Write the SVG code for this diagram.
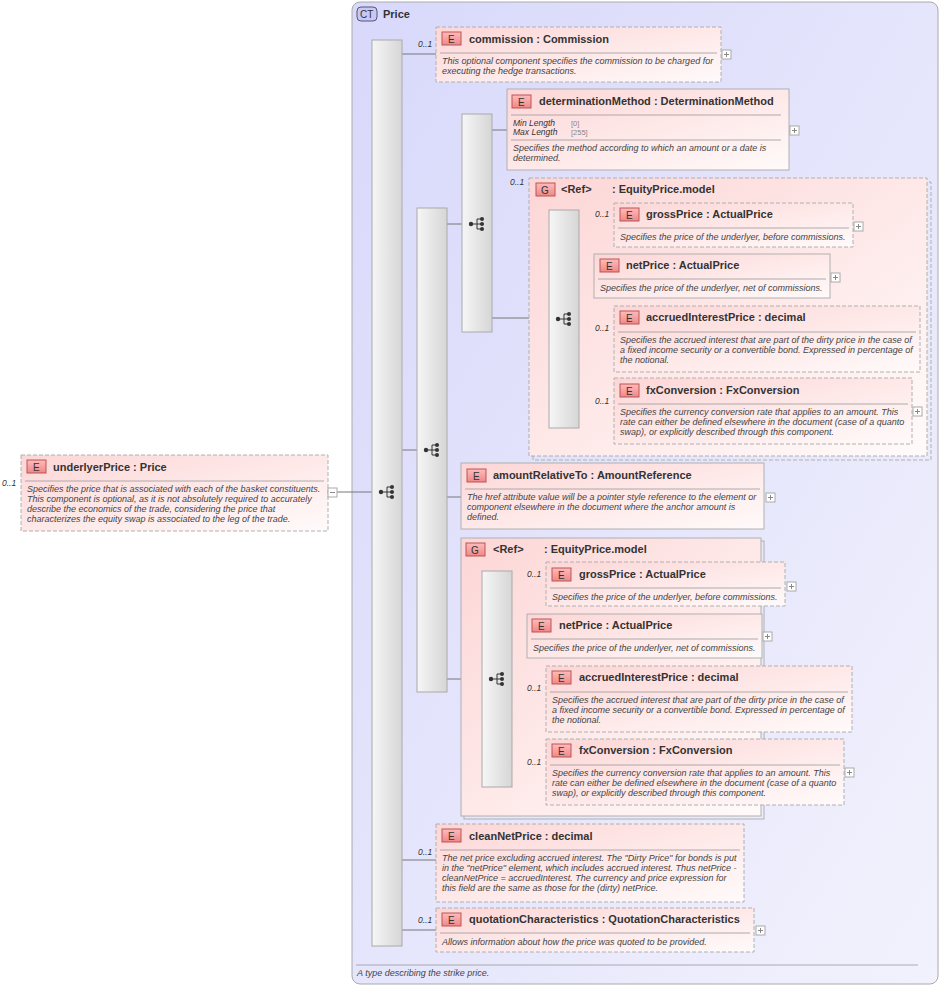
<svg xmlns="http://www.w3.org/2000/svg" width="942" height="987" viewBox="0 0 942 987" xml:space="preserve">
<defs>
<linearGradient id="ct" x1="0" y1="0" x2="1" y2="1"><stop offset="0" stop-color="#d8d8fb"/><stop offset="1" stop-color="#f2f2fd"/></linearGradient>
<linearGradient id="el" x1="0" y1="0" x2="1" y2="1"><stop offset="0" stop-color="#fdd6d6"/><stop offset="1" stop-color="#fffafa"/></linearGradient>
<linearGradient id="bar" x1="0" y1="0" x2="1" y2="0"><stop offset="0" stop-color="#f6f6f6"/><stop offset="1" stop-color="#d6d6d6"/></linearGradient>
<linearGradient id="badge" x1="0" y1="0" x2="0" y2="1"><stop offset="0" stop-color="#fbb"/><stop offset="1" stop-color="#e88"/></linearGradient>
<g id="seq"><circle cx="-6" cy="0" r="2.2" fill="#333"/><line x1="-6" y1="0" x2="0" y2="0" stroke="#333"/><line x1="0" y1="-5" x2="0" y2="5" stroke="#333"/><line x1="0" y1="-5" x2="4" y2="-5" stroke="#333"/><line x1="0" y1="0" x2="4" y2="0" stroke="#333"/><line x1="0" y1="5" x2="4" y2="5" stroke="#333"/><circle cx="5" cy="-5" r="2" fill="#333"/><circle cx="5" cy="0" r="2" fill="#333"/><circle cx="5" cy="5" r="2" fill="#333"/></g>
<g id="plus"><rect x="0" y="0" width="9" height="9" fill="#fff" stroke="#aaa"/><path d="M2 4.5H7M4.5 2V7" stroke="#888"/></g>
</defs>
<style>
text{font-family:"Liberation Sans",Arial,sans-serif;fill:#333}
.h{font-size:11px;font-weight:bold}
.d{font-size:9px;font-style:italic;fill:#444}
.m{font-size:8.5px;font-style:italic;fill:#333}
.v{font-size:7.5px;fill:#888}
.bd{font-size:10px;fill:#333}
.ed{fill:url(#el);stroke:#b0b0b0;stroke-dasharray:4 2}
.es{fill:url(#el);stroke:#b0b0b0}
.sep{stroke:#999;stroke-width:0.8}
.bar{fill:url(#bar);stroke:#aaa}
.badge{fill:url(#badge);stroke:#b55}
.c{stroke:#777;fill:none}
</style>
<rect x="352" y="2" width="586" height="982" rx="8" fill="url(#ct)" stroke="#aaa"/>
<g id="ct-head"><rect x="357" y="7" width="20" height="14" rx="4" fill="#c8c8f5" stroke="#557"/><text x="360" y="18" class="bd">CT</text><text x="383" y="18" class="h">Price</text></g>
<line x1="356" y1="965" x2="918" y2="965" class="sep"/>
<text x="357" y="976" class="d">A type describing the strike price.</text>

<g id="connectors">
<path class="c" d="M337 492H372M402 54H436M402 450H417M402 860H436M402 930H436M447 224H462M447 497H461M447 679H461M492 130H507M492 318H549M579 226H614M579 277H594M579 340H614M579 411H614M512 586H546M512 636H527M512 699H546M512 772H546"/>
</g>

<g id="bars">
<rect class="bar" x="372" y="40" width="30" height="906"/><use href="#seq" x="387" y="492"/>
<rect class="bar" x="417" y="208" width="30" height="484"/><use href="#seq" x="432" y="450"/>
<rect class="bar" x="462" y="114" width="30" height="218"/><use href="#seq" x="477" y="224"/>
</g>

<g id="underlyerPrice">
<rect class="ed" x="21" y="455" width="307" height="76"/>
<rect class="badge" x="27" y="460" width="19" height="13"/><text x="33" y="471" class="bd">E</text>
<text x="53" y="471" class="h">underlyerPrice  : Price</text>
<line x1="25" y1="481" x2="324" y2="481" class="sep"/>
<text class="d"><tspan x="27" y="492">Specifies the price that is associated with each of the basket constituents.</tspan><tspan x="27" y="502">This component is optional, as it is not absolutely required to accurately</tspan><tspan x="27" y="512">describe the economics of the trade, considering the price that</tspan><tspan x="27" y="522">characterizes the equity swap is associated to the leg of the trade.</tspan></text>
<text x="2" y="486" class="m">0..1</text>
<rect x="328" y="488" width="9" height="9" fill="#fff" stroke="#aaa"/><path d="M330 492.5H335" stroke="#888"/>
</g>

<g id="commission">
<rect class="ed" x="436" y="27" width="285" height="55"/>
<rect class="badge" x="442" y="32" width="19" height="13"/><text x="448" y="43" class="bd">E</text>
<text x="469" y="43" class="h">commission  : Commission</text>
<line x1="440" y1="53" x2="717" y2="53" class="sep"/>
<text class="d"><tspan x="442" y="64">This optional component specifies the commission to be charged for</tspan><tspan x="442" y="74">executing the hedge transactions.</tspan></text>
<text x="418" y="47" class="m">0..1</text><use href="#plus" x="722" y="50"/>
</g>

<g id="determinationMethod">
<rect class="es" x="507" y="89" width="282" height="81"/>
<rect class="badge" x="512" y="95" width="19" height="13"/><text x="518" y="106" class="bd">E</text>
<text x="539" y="105" class="h">determinationMethod  : DeterminationMethod</text>
<line x1="511" y1="115" x2="781" y2="115" class="sep"/>
<text x="513" y="126" class="m">Min Length</text><text x="571" y="126" class="v">[0]</text>
<text x="513" y="135" class="m">Max Length</text><text x="571" y="135" class="v">[255]</text>
<line x1="511" y1="140" x2="781" y2="140" class="sep"/>
<text class="d"><tspan x="513" y="151">Specifies the method according to which an amount or a date is</tspan><tspan x="513" y="161">determined.</tspan></text>
<use href="#plus" x="790" y="126"/>
</g>

<g id="group1">
<rect x="533" y="182" width="398" height="278" fill="none" stroke="#b0b0b0" stroke-dasharray="4 2"/>
<rect class="ed" x="529" y="178" width="398" height="278"/>
<rect class="badge" x="536" y="183" width="19" height="13"/><text x="541" y="194" class="bd">G</text>
<text x="561" y="193" class="h">&lt;Ref&gt;</text><text x="612" y="193" class="h">: EquityPrice.model</text>
<text x="510" y="185" class="m">0..1</text>
<rect class="bar" x="549" y="210" width="30" height="218"/><use href="#seq" x="564" y="319"/>
</g>

<g id="grossPrice1">
<rect class="ed" x="614" y="203" width="239" height="44"/>
<rect class="badge" x="620" y="208" width="19" height="13"/><text x="626" y="219" class="bd">E</text>
<text x="646" y="218" class="h">grossPrice  : ActualPrice</text>
<line x1="618" y1="228" x2="849" y2="228" class="sep"/>
<text x="620" y="240" class="d">Specifies the price of the underlyer, before commissions.</text>
<text x="595" y="217" class="m">0..1</text><use href="#plus" x="854" y="222"/>
</g>
<g id="netPrice1">
<rect class="es" x="594" y="254" width="236" height="44"/>
<rect class="badge" x="600" y="259" width="19" height="13"/><text x="606" y="270" class="bd">E</text>
<text x="626" y="269" class="h">netPrice  : ActualPrice</text>
<line x1="598" y1="279" x2="826" y2="279" class="sep"/>
<text x="600" y="291" class="d">Specifies the price of the underlyer, net of commissions.</text>
<use href="#plus" x="831" y="273"/>
</g>
<g id="accruedInterestPrice1">
<rect class="ed" x="614" y="306" width="306" height="66"/>
<rect class="badge" x="620" y="311" width="19" height="13"/><text x="626" y="322" class="bd">E</text>
<text x="646" y="321" class="h">accruedInterestPrice  : decimal</text>
<line x1="618" y1="332" x2="916" y2="332" class="sep"/>
<text class="d"><tspan x="620" y="343">Specifies the accrued interest that are part of the dirty price in the case of</tspan><tspan x="620" y="353">a fixed income security or a convertible bond. Expressed in percentage of</tspan><tspan x="620" y="363">the notional.</tspan></text>
<text x="595" y="331" class="m">0..1</text>
</g>
<g id="fxConversion1">
<rect class="ed" x="614" y="378" width="298" height="66"/>
<rect class="badge" x="620" y="384" width="19" height="13"/><text x="626" y="395" class="bd">E</text>
<text x="646" y="394" class="h">fxConversion  : FxConversion</text>
<line x1="618" y1="404" x2="908" y2="404" class="sep"/>
<text class="d"><tspan x="620" y="415">Specifies the currency conversion rate that applies to an amount. This</tspan><tspan x="620" y="425">rate can either be defined elsewhere in the document (case of a quanto</tspan><tspan x="620" y="435">swap), or explicitly described through this component.</tspan></text>
<text x="595" y="404" class="m">0..1</text><use href="#plus" x="913" y="407"/>
</g>

<g id="amountRelativeTo">
<rect class="es" x="461" y="463" width="303" height="66"/>
<rect class="badge" x="467" y="469" width="19" height="13"/><text x="473" y="480" class="bd">E</text>
<text x="493" y="479" class="h">amountRelativeTo  : AmountReference</text>
<line x1="465" y1="489" x2="760" y2="489" class="sep"/>
<text class="d"><tspan x="467" y="500">The href attribute value will be a pointer style reference to the element or</tspan><tspan x="467" y="510">component elsewhere in the document where the anchor amount is</tspan><tspan x="467" y="520">defined.</tspan></text>
<use href="#plus" x="766" y="493"/>
</g>

<g id="group2">
<rect x="464" y="541" width="300" height="278" fill="none" stroke="#b0b0b0"/>
<rect class="es" x="461" y="538" width="300" height="278"/>
<rect class="badge" x="466" y="543" width="19" height="13"/><text x="471" y="554" class="bd">G</text>
<text x="493" y="553" class="h">&lt;Ref&gt;</text><text x="544" y="553" class="h">: EquityPrice.model</text>
<rect class="bar" x="482" y="571" width="30" height="216"/><use href="#seq" x="497" y="679"/>
</g>
<g id="grossPrice2">
<rect class="ed" x="546" y="562" width="239" height="44"/>
<rect class="badge" x="552" y="568" width="19" height="13"/><text x="558" y="579" class="bd">E</text>
<text x="579" y="578" class="h">grossPrice  : ActualPrice</text>
<line x1="550" y1="588" x2="781" y2="588" class="sep"/>
<text x="552" y="600" class="d">Specifies the price of the underlyer, before commissions.</text>
<text x="527" y="577" class="m">0..1</text><use href="#plus" x="787" y="582"/>
</g>
<g id="netPrice2">
<rect class="es" x="527" y="614" width="235" height="44"/>
<rect class="badge" x="532" y="619" width="19" height="13"/><text x="538" y="630" class="bd">E</text>
<text x="559" y="629" class="h">netPrice  : ActualPrice</text>
<line x1="531" y1="639" x2="758" y2="639" class="sep"/>
<text x="533" y="651" class="d">Specifies the price of the underlyer, net of commissions.</text>
<use href="#plus" x="763" y="632"/>
</g>
<g id="accruedInterestPrice2">
<rect class="ed" x="546" y="666" width="306" height="66"/>
<rect class="badge" x="552" y="671" width="19" height="13"/><text x="558" y="682" class="bd">E</text>
<text x="579" y="681" class="h">accruedInterestPrice  : decimal</text>
<line x1="550" y1="692" x2="848" y2="692" class="sep"/>
<text class="d"><tspan x="552" y="703">Specifies the accrued interest that are part of the dirty price in the case of</tspan><tspan x="552" y="713">a fixed income security or a convertible bond. Expressed in percentage of</tspan><tspan x="552" y="723">the notional.</tspan></text>
<text x="527" y="691" class="m">0..1</text>
</g>
<g id="fxConversion2">
<rect class="ed" x="546" y="739" width="298" height="66"/>
<rect class="badge" x="552" y="744" width="19" height="13"/><text x="558" y="755" class="bd">E</text>
<text x="579" y="754" class="h">fxConversion  : FxConversion</text>
<line x1="550" y1="765" x2="840" y2="765" class="sep"/>
<text class="d"><tspan x="552" y="776">Specifies the currency conversion rate that applies to an amount. This</tspan><tspan x="552" y="786">rate can either be defined elsewhere in the document (case of a quanto</tspan><tspan x="552" y="796">swap), or explicitly described through this component.</tspan></text>
<text x="527" y="765" class="m">0..1</text><use href="#plus" x="845" y="768"/>
</g>

<g id="cleanNetPrice">
<rect class="ed" x="436" y="824" width="308" height="78"/>
<rect class="badge" x="442" y="829" width="19" height="13"/><text x="448" y="840" class="bd">E</text>
<text x="469" y="840" class="h">cleanNetPrice  : decimal</text>
<line x1="440" y1="850" x2="740" y2="850" class="sep"/>
<text class="d"><tspan x="442" y="861">The net price excluding accrued interest. The "Dirty Price" for bonds is put</tspan><tspan x="442" y="871">in the "netPrice" element, which includes accrued interest. Thus netPrice -</tspan><tspan x="442" y="881">cleanNetPrice = accruedInterest. The currency and price expression for</tspan><tspan x="442" y="891">this field are the same as those for the (dirty) netPrice.</tspan></text>
<text x="418" y="855" class="m">0..1</text>
</g>
<g id="quotationCharacteristics">
<rect class="ed" x="436" y="908" width="318" height="44"/>
<rect class="badge" x="442" y="913" width="19" height="13"/><text x="448" y="924" class="bd">E</text>
<text x="469" y="923" class="h">quotationCharacteristics  : QuotationCharacteristics</text>
<line x1="440" y1="933" x2="750" y2="933" class="sep"/>
<text x="442" y="945" class="d">Allows information about how the price was quoted to be provided.</text>
<text x="418" y="923" class="m">0..1</text><use href="#plus" x="756" y="926"/>
</g>
</svg>
